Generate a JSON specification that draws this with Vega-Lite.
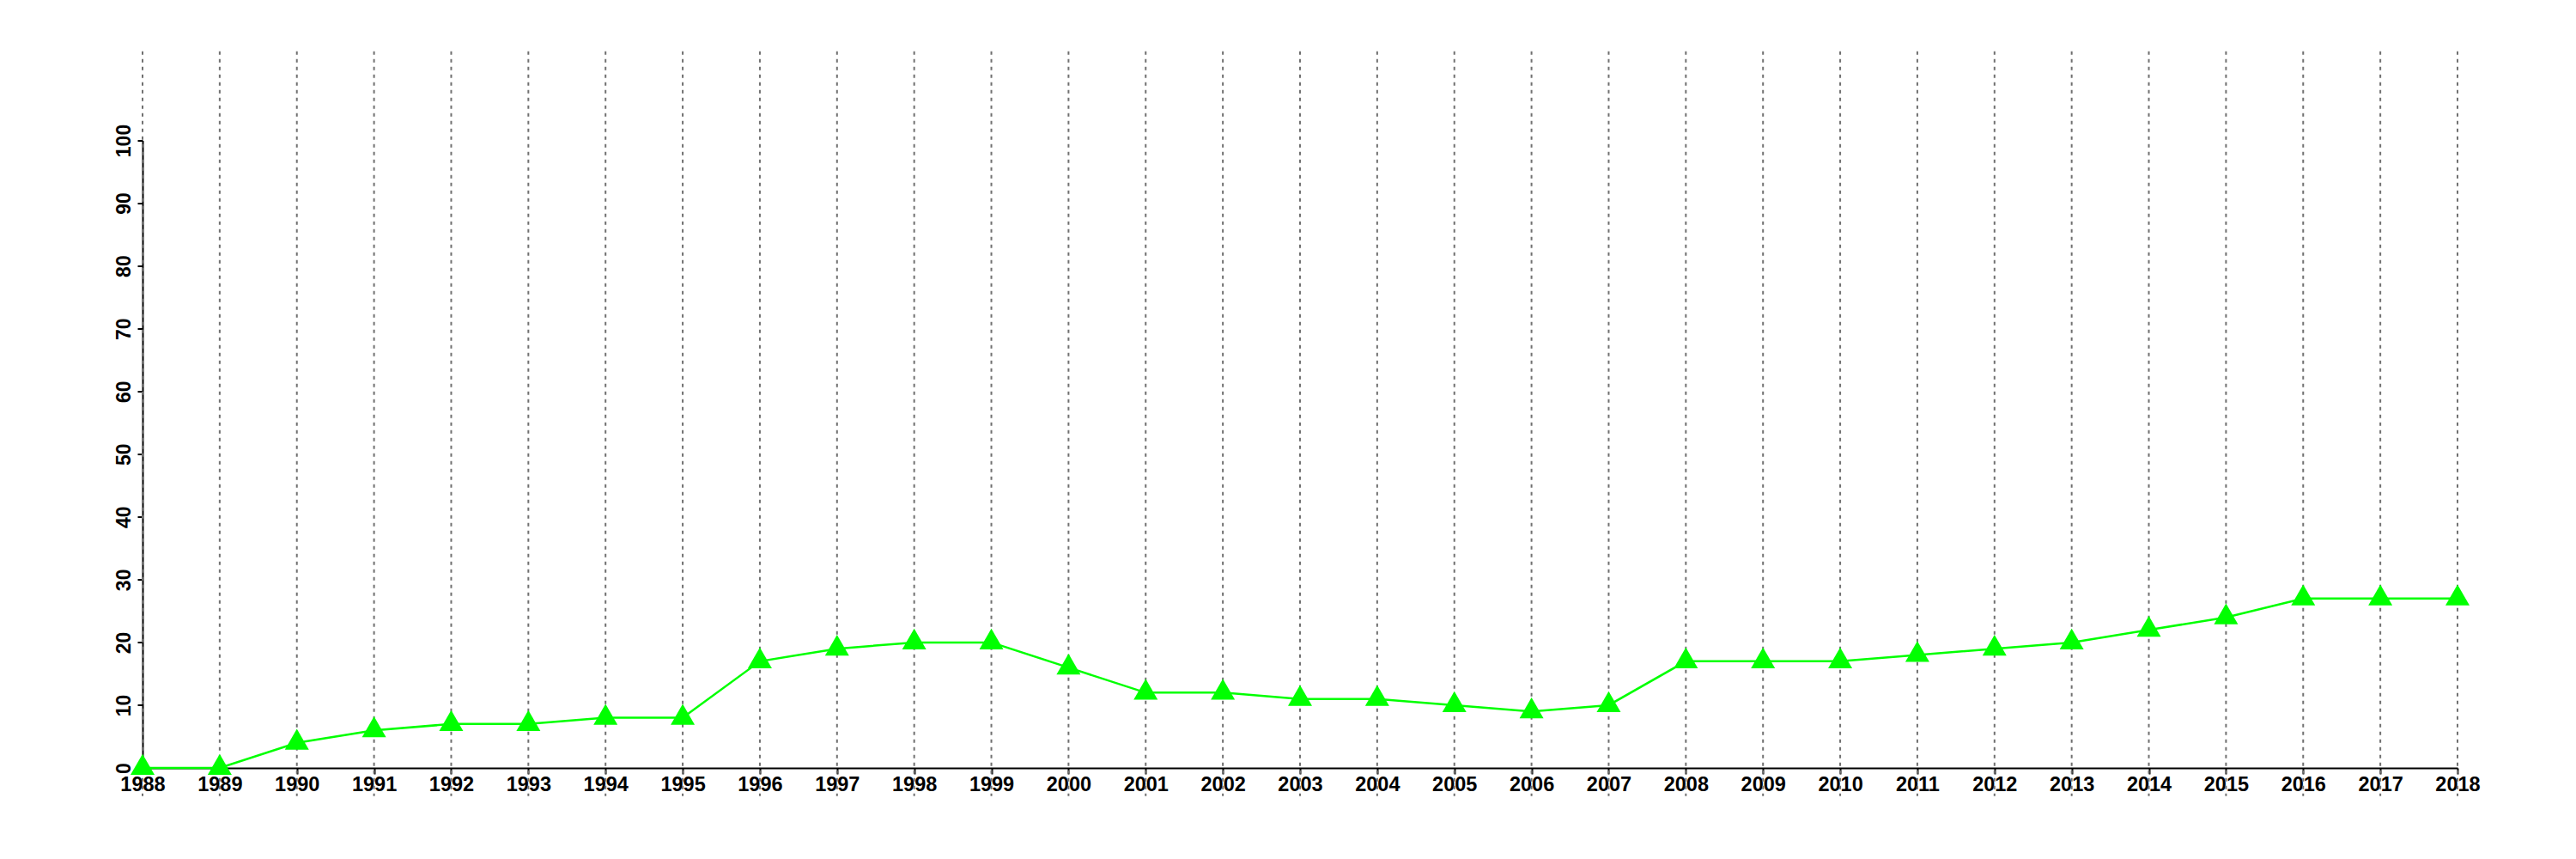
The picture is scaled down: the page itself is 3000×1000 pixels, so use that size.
{
  "$schema": "https://vega.github.io/schema/vega-lite/v6.json",
  "autosize": "none",
  "padding": {"left": 166, "top": 163.5, "right": 138, "bottom": 106.5},
  "width": 2696,
  "height": 730.5,
  "background": "white",
  "config": {"view": {"stroke": null}},
  "data": {"values": [
    {"year": 1988, "value": 0}, {"year": 1989, "value": 0}, {"year": 1990, "value": 4},
    {"year": 1991, "value": 6}, {"year": 1992, "value": 7}, {"year": 1993, "value": 7},
    {"year": 1994, "value": 8}, {"year": 1995, "value": 8}, {"year": 1996, "value": 17},
    {"year": 1997, "value": 19}, {"year": 1998, "value": 20}, {"year": 1999, "value": 20},
    {"year": 2000, "value": 16}, {"year": 2001, "value": 12}, {"year": 2002, "value": 12},
    {"year": 2003, "value": 11}, {"year": 2004, "value": 11}, {"year": 2005, "value": 10},
    {"year": 2006, "value": 9}, {"year": 2007, "value": 10}, {"year": 2008, "value": 17},
    {"year": 2009, "value": 17}, {"year": 2010, "value": 17}, {"year": 2011, "value": 18},
    {"year": 2012, "value": 19}, {"year": 2013, "value": 20}, {"year": 2014, "value": 22},
    {"year": 2015, "value": 24}, {"year": 2016, "value": 27}, {"year": 2017, "value": 27},
    {"year": 2018, "value": 27}
  ]},
  "encoding": {
    "x": {
      "field": "year", "type": "quantitative",
      "scale": {"domain": [1988, 2018], "nice": false, "zero": false},
      "axis": {
        "title": null, "grid": false, "format": "d",
        "values": [1988,1989,1990,1991,1992,1993,1994,1995,1996,1997,1998,1999,2000,2001,2002,2003,2004,2005,2006,2007,2008,2009,2010,2011,2012,2013,2014,2015,2016,2017,2018],
        "labelFont": "Liberation Sans", "labelFontSize": 23.5, "labelFontWeight": "bold", "labelColor": "black",
        "labelBaseline": "alphabetic", "labelPadding": 19, "labelFlush": false, "labelOverlap": false,
        "domainColor": "black", "domainWidth": 2, "tickColor": "black", "tickWidth": 2, "tickSize": 7
      }
    }
  },
  "layer": [
    {
      "mark": {"type": "rule", "color": "#707070", "strokeWidth": 2, "strokeDash": [4, 5]},
      "encoding": {
        "y": {"datum": 114.2, "type": "quantitative", "scale": {"domain": [0, 100], "nice": false}},
        "y2": {"datum": -4.5}
      }
    },
    {
      "mark": {"type": "line", "color": "#00FF00", "strokeWidth": 2.5},
      "encoding": {
        "y": {
          "field": "value", "type": "quantitative",
          "scale": {"domain": [0, 100], "nice": false},
          "axis": {
            "title": null, "grid": false,
            "values": [0,10,20,30,40,50,60,70,80,90,100],
            "labelFont": "Liberation Sans", "labelFontSize": 23, "labelFontWeight": "bold", "labelColor": "black",
            "labelAngle": 270, "labelAlign": "center", "labelBaseline": "alphabetic", "labelPadding": 9,
            "labelFlush": false, "labelOverlap": false,
            "domainColor": "black", "domainWidth": 2, "tickColor": "black", "tickWidth": 2, "tickSize": 6
          }
        }
      }
    },
    {
      "mark": {"type": "point", "shape": "M0,-1.155L1,0.577L-1,0.577Z", "size": 784, "filled": true, "color": "#00FF00", "opacity": 1},
      "encoding": {
        "y": {"field": "value", "type": "quantitative"}
      }
    }
  ]
}
